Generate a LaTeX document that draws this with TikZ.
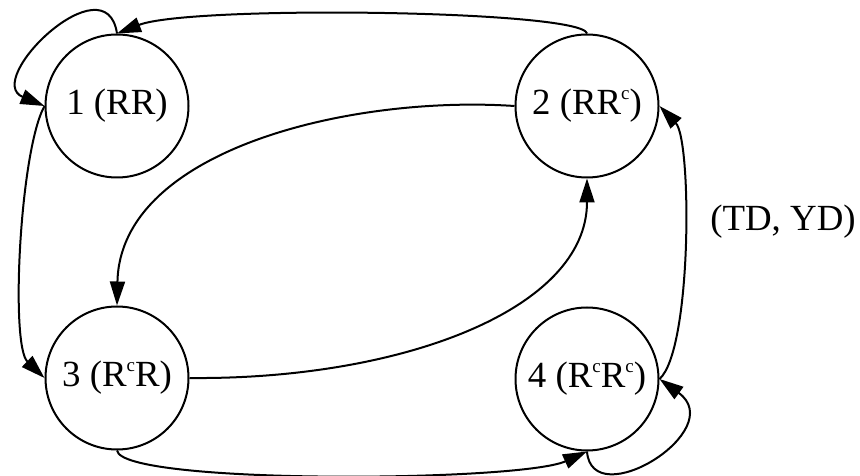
\documentclass[tikz,border=0pt]{standalone}
\usepackage{fontspec}
\setmainfont{Liberation Serif}
\usepackage{tikz}
\usetikzlibrary{arrows.meta}
\tikzstyle{diagram} = [x = 1bp, y = -1bp]
\tikzstyle{stateStyle} = [draw, circle, line width = 2bp, minimum size = 143bp, inner sep = 0pt, font = \fontsize{37}{40}\selectfont]
\tikzstyle{edgeStyle} = [line width = 2bp, -{Triangle[length = 24bp, width = 15bp]}]
\tikzstyle{labelText} = [font = \fontsize{37}{40}\selectfont]
\newcommand{\cmp}{\raisebox{15bp}{\fontsize{19}{20}\selectfont c}}

\begin{document}
\begin{tikzpicture}[diagram]
  \useasboundingbox (0,0) rectangle (860,476);
  \node [stateStyle] (s1) at (117,106) {1 (RR)};
  \node [stateStyle] (s2) at (587,106) {2 (RR\cmp)};
  \node [stateStyle] (s3) at (117,378) {3 (R\cmp R)};
  \node [stateStyle] (s4) at (587,379) {4 (R\cmp R\cmp)};
  \node [labelText] (lbl) at (783,222) {(TD, YD)};

  \draw [edgeStyle] (s2.north) .. controls (582,10) and (190,5) .. (s1.north);
  \draw [edgeStyle] (s1.north) .. controls (106,-40) and (-18,80) .. (s1.west);
  \draw [edgeStyle] (s1.west) .. controls (20,150) and (10,345) .. (s3.west);
  \draw [edgeStyle] (s2.west) .. controls (350,95) and (120,150) .. (s3.north);
  \draw [edgeStyle] (s3.east) .. controls (400,380) and (587,310) .. (s2.south);
  \draw [edgeStyle] (s3.south) .. controls (122,485) and (520,482) .. (s4.south);
  \draw [edgeStyle] (s4.south) .. controls (592,515) and (730,430) .. (s4.east);
  \draw [edgeStyle] (s4.east) .. controls (692,350) and (692,140) .. (s2.east);
\end{tikzpicture}
\end{document}
